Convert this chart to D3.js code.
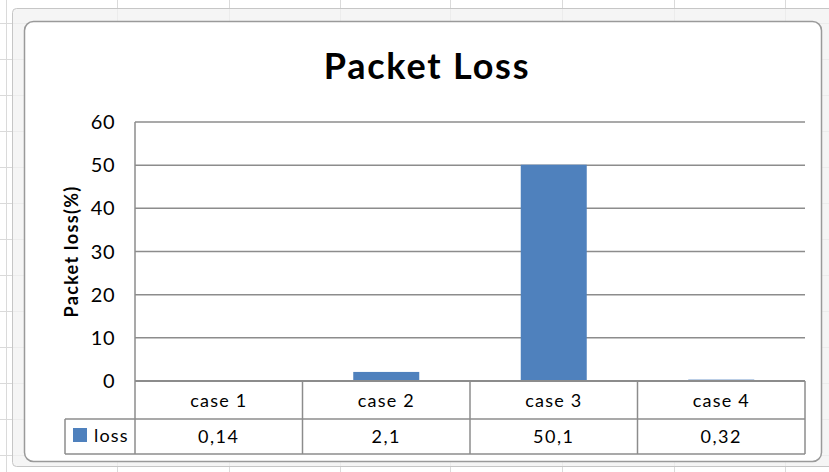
<!DOCTYPE html>
<html>
<head>
<meta charset="utf-8">
<script src="https://cdn.jsdelivr.net/npm/d3@7"></script>
<style>
  html, body { margin: 0; padding: 0; background: #fff; }
  svg { display: block; }
  text { font-family: Lato, "Open Sans", sans-serif; fill: #000; }
</style>
</head>
<body>
<svg id="chart" width="829" height="472"></svg>
<script>
const titleText = "Packet Loss";
const yAxisTitle = "Packet loss(%)";
const seriesName = "loss";
const categories = ["case 1", "case 2", "case 3", "case 4"];
const lossValues = [0.14, 2.1, 50.1, 0.32];
const yTicks = [0, 10, 20, 30, 40, 50, 60];
const sheetRowLines = [23, 59, 95, 131, 167, 203, 239, 275, 311, 347, 383, 419, 455];
const sheetColLines = [6, 117, 229, 340, 450, 562, 674, 785];

const svg = d3.select("#chart");
const W = 829, H = 472;

// spreadsheet background
const bg = svg.append("g");
bg.selectAll("line.r").data(sheetRowLines).join("line")
  .attr("x1", 0).attr("x2", W).attr("y1", d => d + 0.5).attr("y2", d => d + 0.5)
  .attr("stroke", "#dadada").attr("stroke-width", 1);
bg.selectAll("line.c").data(sheetColLines).join("line")
  .attr("y1", 0).attr("y2", H).attr("x1", d => d + 0.5).attr("x2", d => d + 0.5)
  .attr("stroke", "#dadada").attr("stroke-width", 1);

// selection frame band
svg.append("rect").attr("x", 12.5).attr("y", 8.5).attr("width", 830).attr("height", 458)
  .attr("rx", 4).attr("fill", "#f1f1f1").attr("fill-opacity", 0.75)
  .attr("stroke", "#c6c6c6").attr("stroke-width", 1);
// chart area
svg.append("rect").attr("x", 24.5).attr("y", 21.5).attr("width", 797).attr("height", 440)
  .attr("rx", 9).attr("fill", "#ffffff").attr("stroke", "#9a9a9a").attr("stroke-width", 1.5);

const plotLeft = 135, plotRight = 805, plotTop = 122, plotBottom = 381;
const row1Bottom = 419, row2Bottom = 454, legendLeft = 65;

const x = d3.scaleBand().domain(categories).range([plotLeft, plotRight]).paddingInner(0).paddingOuter(0);
const y = d3.scaleLinear().domain([0, 60]).range([plotBottom, plotTop]);

// gridlines
const gridColor = "#8c8c8c";
svg.append("g").selectAll("line").data(yTicks.filter(d => d > 0)).join("line")
  .attr("x1", plotLeft).attr("x2", plotRight)
  .attr("y1", d => y(d)).attr("y2", d => y(d))
  .attr("stroke", gridColor).attr("stroke-width", 1.5);

// y tick labels
svg.append("g").selectAll("text").data(yTicks).join("text")
  .attr("x", 115).attr("y", d => y(d) + 7)
  .attr("text-anchor", "end").attr("font-size", 20).attr("letter-spacing", 0.5)
  .text(d => d);

// bars
const barW = x.bandwidth() * 0.394;
svg.append("g").selectAll("rect").data(lossValues).join("rect")
  .attr("x", (d, i) => x(categories[i]) + (x.bandwidth() - barW) / 2)
  .attr("width", barW)
  .attr("y", d => y(d))
  .attr("height", d => y(0) - y(d))
  .attr("fill", "#4f81bd");

// data table
const tbl = svg.append("g").attr("stroke", gridColor).attr("stroke-width", 1.5).attr("fill", "none");
tbl.append("line").attr("x1", plotLeft).attr("x2", plotLeft).attr("y1", plotTop).attr("y2", row2Bottom);
tbl.append("line").attr("x1", plotLeft).attr("x2", plotRight).attr("y1", y(0)).attr("y2", y(0)).attr("stroke-width", 2);
tbl.append("line").attr("x1", legendLeft).attr("x2", plotRight).attr("y1", row1Bottom).attr("y2", row1Bottom);
tbl.append("line").attr("x1", legendLeft).attr("x2", plotRight).attr("y1", row2Bottom).attr("y2", row2Bottom);
tbl.append("line").attr("x1", legendLeft).attr("x2", legendLeft).attr("y1", row1Bottom).attr("y2", row2Bottom);
tbl.selectAll("line.v").data(categories).join("line")
  .attr("x1", d => x(d) + x.bandwidth()).attr("x2", d => x(d) + x.bandwidth())
  .attr("y1", y(0)).attr("y2", row2Bottom);

svg.append("g").selectAll("text").data(categories).join("text")
  .attr("x", d => x(d) + x.bandwidth() / 2).attr("y", 407)
  .attr("text-anchor", "middle").attr("font-size", 18).attr("letter-spacing", 1.2)
  .text(d => d);

svg.append("g").selectAll("text").data(lossValues).join("text")
  .attr("x", (d, i) => x(categories[i]) + x.bandwidth() / 2).attr("y", 443)
  .attr("text-anchor", "middle").attr("font-size", 18).attr("letter-spacing", 1.5)
  .text(d => String(d).replace(".", ","));

// legend key
svg.append("rect").attr("x", 73).attr("y", 428).attr("width", 14).attr("height", 14).attr("fill", "#4f81bd");
svg.append("text").attr("x", 94).attr("y", 442).attr("font-size", 18).attr("letter-spacing", 1.2).text(seriesName);

// title
svg.append("text").attr("x", 427).attr("y", 79).attr("text-anchor", "middle")
  .attr("font-size", 36).attr("font-weight", "bold").attr("letter-spacing", 1.8).text(titleText);

// y axis title
svg.append("text").attr("transform", `translate(78, ${(plotTop + plotBottom) / 2}) rotate(-90)`)
  .attr("text-anchor", "middle").attr("font-size", 18).attr("font-weight", "bold").attr("letter-spacing", 1.3)
  .text(yAxisTitle);
</script>
</body>
</html>
